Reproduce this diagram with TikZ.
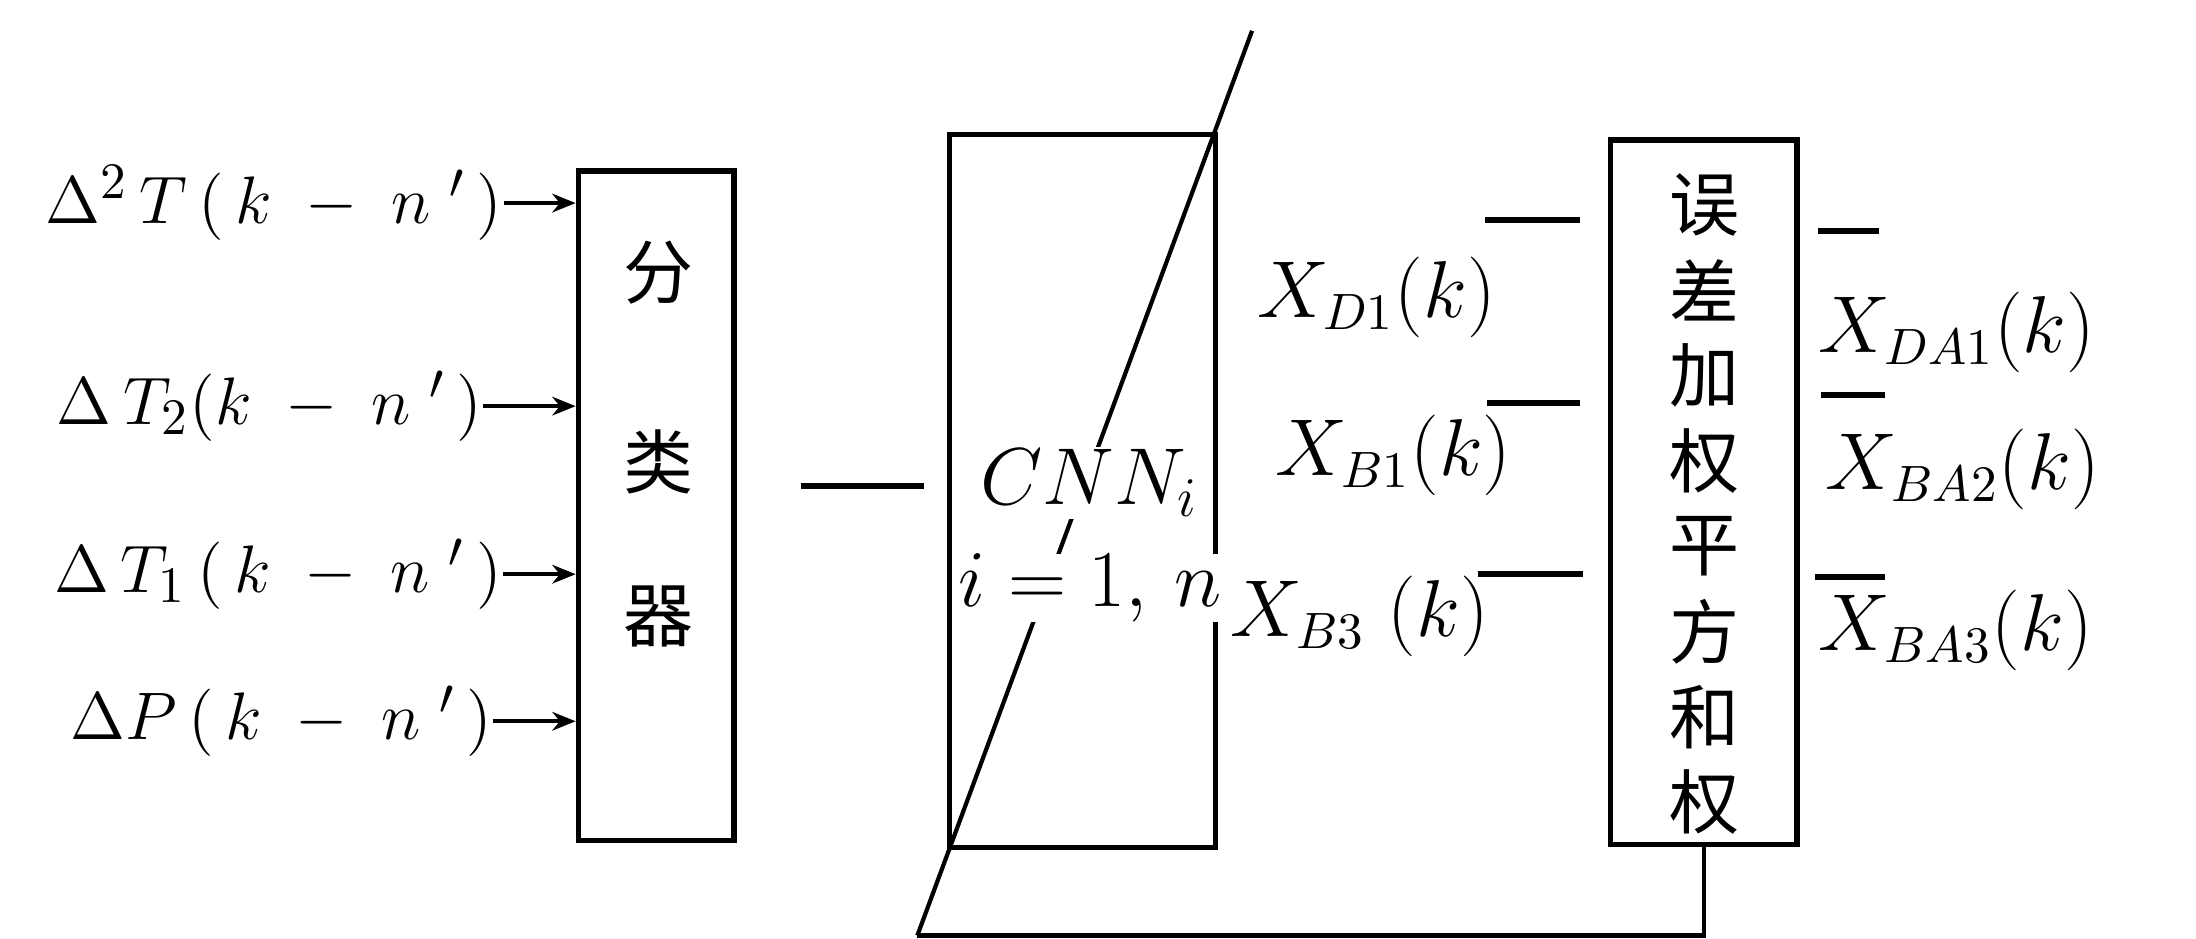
\documentclass[tikz,border=0pt]{standalone}
\usepackage{fontspec}
\newfontfamily\cjk{Noto Sans CJK SC}
\usetikzlibrary{arrows.meta}
\begin{document}
\begin{tikzpicture}[x=0.3pt,y=-0.3pt,
  box/.style={draw,line width=1.2pt,inner sep=0pt},
  inlab/.style={inner sep=0pt,anchor=west,font=\fontsize{15}{17}\selectfont},
  xlab/.style={inner sep=0pt,font=\fontsize{16}{18}\selectfont},
  cjkch/.style={inner sep=0pt,font=\cjk\fontsize{15}{17}\selectfont},
  cjkbig/.style={inner sep=0pt,font=\cjk\fontsize{15}{17}\selectfont},
  cnnlab/.style={inner sep=0.5pt,fill=white,font=\fontsize{18}{20}\selectfont},
  wire/.style={line width=0.9pt},
  bar/.style={line width=1.3pt},
  inarrow/.style={line width=0.9pt,-{Stealth[length=5pt,width=4pt]}}]
\useasboundingbox (0,0) rectangle (1568,670);
% boxes
\node[box,minimum width=33.3pt,minimum height=143.4pt] (cls) at (468.5,361) {};
\node[box,minimum width=57pt,minimum height=152.7pt] (cnn) at (773,350.5) {};
\node[box,minimum width=39.9pt,minimum height=150.9pt] (err) at (1216.5,351.5) {};
% classifier text
\node[cjkch] (c1) at (470,195) {分};
\node[cjkch] (c2) at (470,330) {类};
\node[cjkch] (c3) at (470,440) {器};
% error box text
\foreach \ch [count=\i] in {误,差,加,权,平,方,和,权}
  \node[cjkbig] (e\i) at (1217,{146+61*(\i-1)}) {\ch};
% inputs
\node[inlab] (in1) at (32,145) {$\Delta^{2}\,T\,(\,k\;-\;n\;'\,)$};
\node[inlab] (in2) at (40,290) {$\Delta\,T_{2}(k\;-\;n\;'\,)$};
\node[inlab] (in3) at (38,410) {$\Delta\,T_{1}\,(\,k\;-\;n\;'\,)$};
\node[inlab] (in4) at (50,515) {$\Delta P\,(\,k\;-\;n\;'\,)$};
\foreach \i in {1,...,4}
  \draw[inarrow] (in\i.east) -- (in\i.east -| cls.west);
% classifier -> CNN
\coordinate (m1) at (572,347);
\coordinate (m2) at (660,347);
\draw[line width=1.4pt] (m1) -- (m2);
% diagonal
\coordinate (dtop) at (894,22);
\coordinate (dbot) at (655,668);
\draw[wire] (dtop) -- (dbot);
% CNN text
\node[cnnlab] (cnnt) at (778,345) {$CNN_{i}$};
\node[cnnlab,anchor=west,inner sep=0pt,font=\fontsize{17}{19}\selectfont] (cnni) at (684,420) {$i=1,\,n$};
% feedback
\draw[wire] (err.south) -- (err.south |- dbot) -- (dbot);
% middle labels
\node[xlab] (xd1) at (983,212) {$X_{D1}(k)$};
\node[xlab] (xb1) at (995,325) {$X_{B1}(k)$};
\node[xlab,anchor=west] (xb3) at (878,440) {$X_{B3}\ (k)$};
\draw[bar] (1060,157) -- (1128,157);
\draw[bar] (1062,288) -- (1128,288);
\draw[bar] (1055,410) -- (1130,410);
% right labels
\node[xlab,anchor=west] (xda1) at (1298,237) {$X_{DA1}(k)$};
\node[xlab,anchor=west] (xba2) at (1303,335) {$X_{BA2}(k)$};
\node[xlab,anchor=west] (xba3) at (1298,450) {$X_{BA3}(k)$};
\draw[bar] (1298,165) -- (1342,165);
\draw[bar] (1300,282) -- (1346,282);
\draw[bar] (1296,412) -- (1346,412);
\end{tikzpicture}
\end{document}
